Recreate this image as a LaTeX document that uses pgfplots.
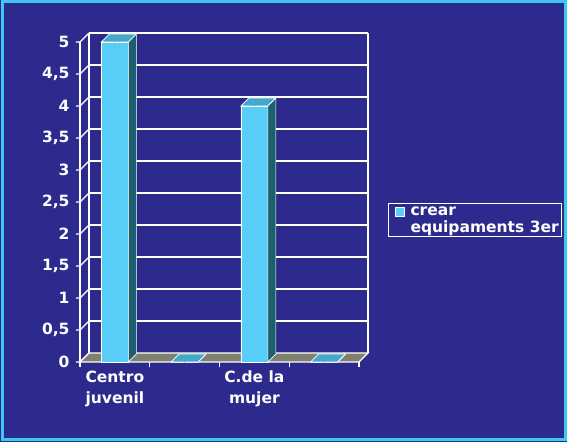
\documentclass[border=0pt]{standalone}
\usepackage{fontspec}
\setmainfont{DejaVu Sans}
\usepackage{pgfplots}
\pgfplotsset{compat=1.18}
\definecolor{bg}{RGB}{44,42,140}
\definecolor{framec}{RGB}{60,200,240}
\definecolor{frontc}{RGB}{88,205,248}
\definecolor{sidec}{RGB}{28,96,112}
\definecolor{topc}{RGB}{70,168,200}
\definecolor{floorc}{RGB}{128,128,112}
\begin{document}
\begin{tikzpicture}
\fill[bg] (0,0) rectangle (567bp,442bp);
\draw[framec, line width=3bp] (2bp,2bp) rectangle (565bp,440bp);
\begin{axis}[
  at={(80bp,80bp)}, anchor=south west, scale only axis,
  width=279bp, height=320bp,
  xmin=-0.5, xmax=3.5, ymin=0, ymax=5,
  clip=false,
  axis line style={draw=none},
  major tick length=0pt,
  ytick={0,0.5,1,1.5,2,2.5,3,3.5,4,4.5,5},
  xtick={0,1,2,3},
  xticklabels={{Centro\\juvenil},{},{C.de la\\mujer},{}},
  xticklabel style={align=center, text=white, font=\fontsize{15.5bp}{21bp}\selectfont\bfseries, yshift=-5bp},
  yticklabel style={text=white, font=\fontsize{15.5bp}{18bp}\selectfont\bfseries, xshift=-7bp},
  /pgf/number format/use comma,
  /pgf/number format/assume math mode=true,
  legend style={at={(1.104,0.497)}, anchor=north west, draw=white, fill=none, line width=1bp,
    text=white, font=\fontsize{15.5bp}{17bp}\selectfont\bfseries, inner sep=1bp,
    nodes={align=left, inner sep=2bp}},
]
% back wall and grid
\def\dx{9bp}\def\dy{9bp}
\pgfplotsinvokeforeach{0.5,1,1.5,2,2.5,3,3.5,4,4.5,5}{
  \draw[white, line width=1.2bp] ([xshift=\dx,yshift=\dy]axis cs:-0.5,#1) -- ([xshift=\dx,yshift=\dy]axis cs:3.5,#1);
}
\pgfplotsinvokeforeach{0,0.5,1,1.5,2,2.5,3,3.5,4,4.5,5}{
  \draw[white, line width=1.2bp] ([xshift=-4bp]axis cs:-0.5,#1) -- (axis cs:-0.5,#1) -- ([xshift=\dx,yshift=\dy]axis cs:-0.5,#1);
}
\draw[white, line width=1.2bp] (axis cs:-0.5,0) -- (axis cs:-0.5,5);
\draw[white, line width=1.2bp] ([xshift=\dx,yshift=\dy]axis cs:-0.5,0) -- ([xshift=\dx,yshift=\dy]axis cs:-0.5,5);
\draw[white, line width=1.2bp] ([xshift=\dx,yshift=\dy]axis cs:3.5,0) -- ([xshift=\dx,yshift=\dy]axis cs:3.5,5);
% floor
\filldraw[fill=floorc, draw=white, line width=1.2bp] (axis cs:-0.5,0) -- (axis cs:3.5,0) -- ([xshift=\dx,yshift=\dy]axis cs:3.5,0) -- ([xshift=\dx,yshift=\dy]axis cs:-0.5,0) -- cycle;
\pgfplotsinvokeforeach{-0.5,0.5,1.5,2.5,3.5}{
  \draw[white, line width=1.2bp] (axis cs:#1,0) -- ([yshift=-5bp]axis cs:#1,0);
}
% bars
\addplot[ybar, bar width=27bp, fill=frontc, draw=white, line width=0.6bp,
  legend image code/.code={\path[draw=none,fill=none] (0bp,4bp) rectangle (19bp,13bp);\fill[frontc,draw=white,line width=0.6bp] (6bp,4bp) rectangle (15bp,13bp);}]
  coordinates {(0,5) (1,0) (2,4) (3,0)};
\addlegendentry{crear\\equipaments 3er}
\addplot[scatter, only marks, mark=*, mark size=0.01pt, mark options={draw=none,fill=none},
  visualization depends on={rawy \as \val},
  scatter/@pre marker code/.code={%
    \filldraw[fill=topc, draw=white, line width=0.6bp] (-13.5bp,0pt) -- (13.5bp,0pt) -- (21.5bp,8bp) -- (-5.5bp,8bp) -- cycle;
    \filldraw[fill=sidec, draw=white, line width=0.6bp] (13.5bp,0pt) -- (21.5bp,8bp) -- (21.5bp,{8bp-\val*64bp}) -- (13.5bp,{-\val*64bp}) -- cycle;
  },
  scatter/@post marker code/.code={},
  forget plot]
  coordinates {(0,5) (1,0) (2,4) (3,0)};
\end{axis}
\end{tikzpicture}
\end{document}
